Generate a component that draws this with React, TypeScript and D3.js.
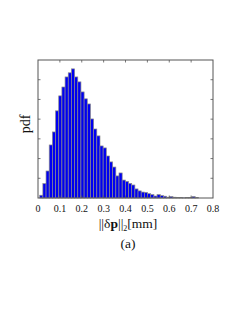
import * as d3 from "d3";

const w = 240;
const h = 310;
const plot = { left: 38, right: 213, top: 60, bottom: 198 };

// histogram
const binStart = 0.0078;
const binWidth = 0.0145;
const pdfValues = [
  0.14, 0.73, 1.37, 2.69, 3.35, 4.42, 5.18, 5.63, 6.14, 6.35, 6.55, 6.14, 5.89,
  5.38, 5.03, 4.77, 4.01, 3.5, 3.15, 2.64, 2.54, 2.13, 1.83, 1.57, 1.12, 1.27,
  0.91, 0.84, 0.74, 0.66, 0.46, 0.36, 0.3, 0.28, 0.22, 0.17, 0.1, 0.17, 0.12,
  0.09, 0.04, 0.07, 0.04, 0.02, 0.02, 0.01, 0.02, 0.02, 0.07, 0.03,
];
const xTicks = [0, 0.1, 0.2, 0.3, 0.4, 0.5, 0.6, 0.7, 0.8];
const yTicks = [1, 2, 3, 4, 5, 6];

const x = d3.scaleLinear().domain([0, 0.8]).range([plot.left, plot.right]);
const y = d3.scaleLinear().domain([0, 7]).range([plot.bottom, plot.top]);

const serif = "'Liberation Serif', 'DejaVu Serif', serif";
const tickLen = 2.5;
const frame = "#555";

function App() {
  return (
    <svg
      width={w}
      height={h}
      style={{ position: "absolute", left: 0, top: 0, background: "white" }}
    >
      {pdfValues.map((v, i) => {
        const x0 = binStart + i * binWidth;
        return (
          <rect
            key={i}
            x={x(x0)}
            y={y(v)}
            width={x(x0 + binWidth) - x(x0)}
            height={y(0) - y(v)}
            fill="#0000f0"
            stroke="#8a8a8a"
            strokeWidth={0.7}
          />
        );
      })}

      <rect
        x={plot.left}
        y={plot.top}
        width={plot.right - plot.left}
        height={plot.bottom - plot.top}
        fill="none"
        stroke={frame}
        strokeWidth={1}
      />

      {xTicks.slice(1, -1).map((t) => (
        <g key={"xt" + t} stroke={frame} strokeWidth={0.8}>
          <line x1={x(t)} x2={x(t)} y1={plot.bottom} y2={plot.bottom - tickLen} />
          <line x1={x(t)} x2={x(t)} y1={plot.top} y2={plot.top + tickLen} />
        </g>
      ))}
      {yTicks.map((t) => (
        <g key={"yt" + t} stroke={frame} strokeWidth={0.8}>
          <line x1={plot.left} x2={plot.left + tickLen} y1={y(t)} y2={y(t)} />
          <line x1={plot.right} x2={plot.right - tickLen} y1={y(t)} y2={y(t)} />
        </g>
      ))}

      {xTicks.map((t) => (
        <text
          key={"xl" + t}
          x={x(t)}
          y={212}
          textAnchor="middle"
          fontFamily={serif}
          fontSize={10}
          fill="#111"
        >
          {String(t)}
        </text>
      ))}

      <text
        x={128}
        y={228}
        textAnchor="middle"
        fontFamily={serif}
        fontSize={13.5}
        fill="#111"
      >
        ||δ<tspan fontWeight="bold">p</tspan>||
        <tspan fontSize={8} dy={3}>2</tspan>
        <tspan dy={-3}>[mm]</tspan>
      </text>
      <text
        x={128}
        y={248}
        textAnchor="middle"
        fontFamily={serif}
        fontSize={13.5}
        fill="#111"
      >
        (a)
      </text>

      <text
        transform={`translate(30,124) rotate(-90)`}
        textAnchor="middle"
        fontFamily={serif}
        fontSize={14}
        fill="#111"
      >
        pdf
      </text>
    </svg>
  );
}

export default App;
